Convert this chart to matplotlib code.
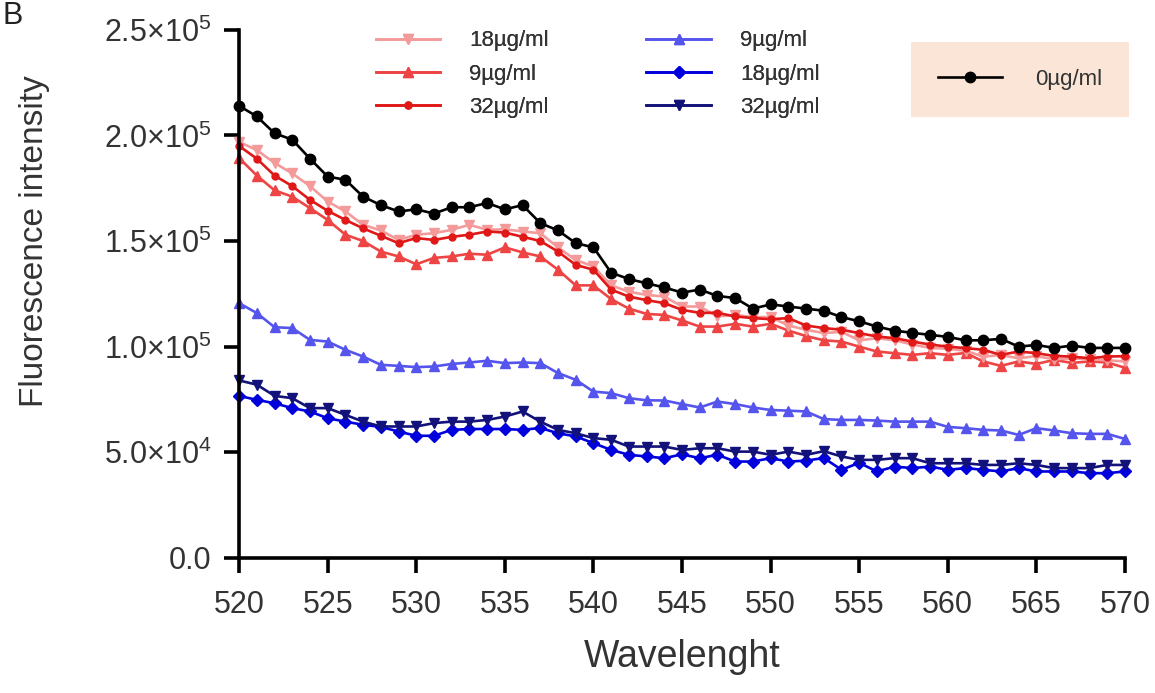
import numpy as np
import matplotlib
matplotlib.use("Agg")
import matplotlib.pyplot as plt
from matplotlib.ticker import FixedLocator, FixedFormatter

plt.rcParams['font.family'] = ['Liberation Sans', 'DejaVu Sans']
plt.rcParams['mathtext.fontset'] = 'custom'
plt.rcParams['mathtext.rm'] = 'Liberation Sans'
plt.rcParams['mathtext.it'] = 'Liberation Sans:italic'

# wavelength (nm), one reading per nm
wavelength = list(range(520, 571))

# fluorescence intensity, units of 1e5
ctrl_0 = [2.14, 2.09, 2.01, 1.98, 1.89, 1.805, 1.79, 1.71, 1.67, 1.64,
          1.65, 1.63, 1.66, 1.66, 1.68, 1.65, 1.67, 1.585, 1.55, 1.49,
          1.47, 1.35, 1.32, 1.30, 1.28, 1.256, 1.27, 1.24, 1.23, 1.18,
          1.20, 1.19, 1.18, 1.17, 1.14, 1.12, 1.095, 1.076, 1.065, 1.056,
          1.046, 1.03, 1.03, 1.037, 1.00, 1.008, 0.994, 1.005, 0.994, 0.994,
          0.994]

red_18 = [1.97, 1.93, 1.87, 1.82, 1.76, 1.687, 1.64, 1.577, 1.55, 1.505,
          1.53, 1.537, 1.553, 1.577, 1.553, 1.556, 1.545, 1.537, 1.47, 1.41,
          1.38, 1.29, 1.26, 1.245, 1.237, 1.19, 1.19, 1.143, 1.15, 1.14,
          1.14, 1.10, 1.08, 1.064, 1.07, 1.03, 1.04, 1.03, 1.01, 0.994,
          0.99, 0.98, 0.953, 0.96, 0.945, 0.955, 0.94, 0.945, 0.94, 0.935,
          0.93]

red_9 = [1.893, 1.81, 1.74, 1.71, 1.656, 1.60, 1.53, 1.50, 1.45, 1.427,
         1.39, 1.42, 1.427, 1.44, 1.435, 1.47, 1.446, 1.427, 1.364, 1.29,
         1.29, 1.225, 1.18, 1.155, 1.15, 1.124, 1.095, 1.095, 1.108, 1.095,
         1.108, 1.076, 1.05, 1.03, 1.024, 1.0, 0.977, 0.969, 0.961, 0.969,
         0.961, 0.97, 0.93, 0.909, 0.93, 0.918, 0.937, 0.923, 0.93, 0.925,
         0.90]

red_32 = [1.95, 1.89, 1.81, 1.76, 1.695, 1.643, 1.60, 1.56, 1.525, 1.49,
          1.514, 1.505, 1.52, 1.53, 1.545, 1.54, 1.52, 1.50, 1.45, 1.387,
          1.364, 1.27, 1.237, 1.22, 1.206, 1.174, 1.16, 1.16, 1.143, 1.135,
          1.13, 1.135, 1.10, 1.088, 1.08, 1.064, 1.048, 1.04, 1.024, 1.01,
          1.0, 0.993, 0.985, 0.961, 0.977, 0.969, 0.956, 0.953, 0.945, 0.953,
          0.955]

blue_9 = [1.206, 1.159, 1.092, 1.088, 1.032, 1.024, 0.985, 0.953, 0.914, 0.909,
          0.903, 0.906, 0.918, 0.925, 0.933, 0.922, 0.925, 0.922, 0.875, 0.843,
          0.787, 0.78, 0.756, 0.746, 0.745, 0.728, 0.712, 0.74, 0.728, 0.712,
          0.70, 0.697, 0.693, 0.657, 0.653, 0.653, 0.65, 0.645, 0.645, 0.645,
          0.62, 0.614, 0.606, 0.603, 0.582, 0.614, 0.603, 0.59, 0.587, 0.587,
          0.563]

blue_18 = [0.767, 0.748, 0.732, 0.709, 0.693, 0.661, 0.645, 0.63, 0.62, 0.598,
           0.578, 0.578, 0.606, 0.61, 0.61, 0.61, 0.606, 0.615, 0.59, 0.575,
           0.543, 0.511, 0.488, 0.48, 0.472, 0.49, 0.472, 0.488, 0.456, 0.456,
           0.472, 0.456, 0.46, 0.473, 0.417, 0.45, 0.409, 0.432, 0.425, 0.432,
           0.417, 0.425, 0.417, 0.409, 0.425, 0.409, 0.409, 0.409, 0.401, 0.401,
           0.409]

blue_32 = [0.84, 0.82, 0.767, 0.756, 0.709, 0.709, 0.677, 0.645, 0.622, 0.622,
           0.622, 0.638, 0.645, 0.645, 0.653, 0.669, 0.693, 0.645, 0.606, 0.59,
           0.567, 0.559, 0.527, 0.527, 0.527, 0.511, 0.519, 0.519, 0.503, 0.503,
           0.488, 0.503, 0.488, 0.505, 0.48, 0.464, 0.464, 0.472, 0.472, 0.448,
           0.448, 0.448, 0.44, 0.44, 0.448, 0.44, 0.425, 0.425, 0.425, 0.44,
           0.44]

yticks = [0, 0.5e5, 1.0e5, 1.5e5, 2.0e5, 2.5e5]
ytick_labels = ["0.0", r"5.0×10$^4$", r"1.0×10$^5$", r"1.5×10$^5$",
                r"2.0×10$^5$", r"2.5×10$^5$"]
xticks = list(range(520, 571, 5))

fig = plt.figure(figsize=(11.55, 6.93), dpi=100)
ax = fig.add_axes([0.207, 0.195, 0.767, 0.762])

def scale(v):
    return np.array(v) * 1e5

lw = 1.9
h_b18, = ax.plot(wavelength, scale(blue_18), color='#0000dd', marker='D', ms=6, lw=lw, label='18µg/ml')
h_b32, = ax.plot(wavelength, scale(blue_32), color='#12127a', marker='v', ms=7.5, lw=lw, label='32µg/ml')
h_b9, = ax.plot(wavelength, scale(blue_9), color='#5555ee', marker='^', ms=7.5, lw=lw, label='9µg/ml')
h_r9, = ax.plot(wavelength, scale(red_9), color='#ee4444', marker='^', ms=7, lw=lw, label='9µg/ml')
h_r18, = ax.plot(wavelength, scale(red_18), color='#f49a9a', marker='v', ms=7, lw=lw, label='18µg/ml')
h_r32, = ax.plot(wavelength, scale(red_32), color='#e01818', marker='o', ms=5, lw=lw, label='32µg/ml')
h_0, = ax.plot(wavelength, scale(ctrl_0), color='black', marker='o', ms=7.5, lw=lw, label='0µg/ml')

ax.set_xlim(520, 570)
ax.set_ylim(0, 2.5e5)
ax.xaxis.set_major_locator(FixedLocator(xticks))
ax.yaxis.set_major_locator(FixedLocator(yticks))
ax.yaxis.set_major_formatter(FixedFormatter(ytick_labels))

for s in ['top', 'right']:
    ax.spines[s].set_visible(False)
for s in ['left', 'bottom']:
    ax.spines[s].set_linewidth(2.6)
ax.tick_params(axis='both', direction='out', length=11, width=2.6,
               labelsize=22, colors='black', labelcolor='#333333')
ax.tick_params(axis='x', pad=12)
ax.tick_params(axis='y', pad=9)
for line in ax.get_lines():
    line.set_clip_on(False)

ax.set_ylabel('Fluorescence intensity', fontsize=24, color='#333333')
ax.yaxis.set_label_coords(-0.213, 0.6)
ax.set_xlabel('Wavelenght', fontsize=27, color='#333333', labelpad=14)

leg1 = fig.legend(handles=[h_r18, h_r9, h_r32, h_b9, h_b18, h_b32], ncol=2,
                  frameon=False, fontsize=16, handlelength=2.9, handletextpad=1.3,
                  columnspacing=4.4, labelspacing=0.55, labelcolor='#333333',
                  loc='upper left', bbox_to_anchor=(0.308, 0.985))
fig.add_artist(leg1)
leg2 = fig.legend(handles=[h_0], frameon=True, fancybox=False, fontsize=16,
                  handlelength=2.9, handletextpad=1.5, labelcolor='#333333',
                  loc='upper left', bbox_to_anchor=(0.779, 0.955),
                  borderpad=1.2)
leg2.get_frame().set_facecolor('#fbe5d6')
leg2.get_frame().set_edgecolor('none')
leg2.get_frame().set_alpha(1)

fig.text(0.002, 0.999, 'B', fontsize=22, color='#222222', va='top', ha='left')

fig.savefig('out.png', dpi=100)
